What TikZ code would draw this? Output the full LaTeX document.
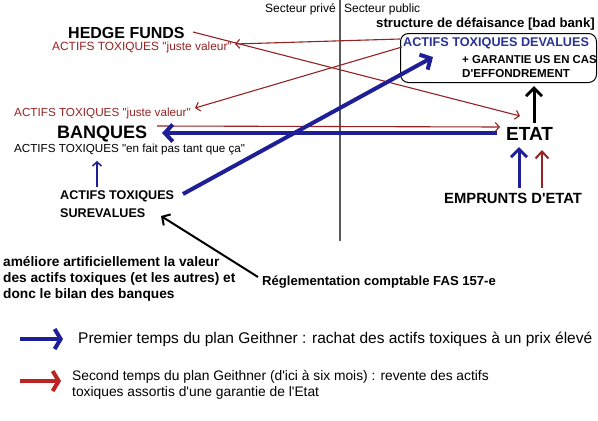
\documentclass[tikz,border=0pt]{standalone}
\usepackage{fontspec}
\setmainfont{Liberation Sans}
\usetikzlibrary{arrows.meta}
\definecolor{navy}{RGB}{30,30,150}
\definecolor{boxblue}{RGB}{40,50,150}
\definecolor{dred}{RGB}{150,35,35}
\definecolor{lred}{RGB}{190,35,35}
\definecolor{vline}{RGB}{90,90,90}
\newcommand{\apos}{\textquotesingle}
\newcommand{\dq}{\textquotedbl}
\begin{document}
\begin{tikzpicture}[x=1pt,y=-1pt,
  lbl/.style={inner sep=0pt, anchor=west},
  fs/.style={font={\fontsize{#1}{#1}\selectfont}},
  fsb/.style={font={\fontsize{#1}{#1}\selectfont\bfseries}},
  thinred/.style={draw=dred, line width=1.1pt, -{Straight Barb[length=4pt,width=9pt]}},
  thickblue/.style={draw=navy, line width=4pt, -{Straight Barb[length=8pt,width=17pt]}},
  upblue/.style={draw=navy, line width=3pt, -{Straight Barb[length=8pt,width=16pt]}},
  upred/.style={draw=dred, line width=2pt, -{Straight Barb[length=7pt,width=13pt]}},
  upblack/.style={draw=black, line width=3pt, -{Straight Barb[length=8pt,width=16pt]}},
]
\useasboundingbox[fill=white] (0,0) rectangle (598,421);

% dividing line
\coordinate (vtop) at (340,0);
\coordinate (vbot) at (340,241);
\draw[vline, line width=1.2pt] (vtop) -- (vbot);
\node[lbl, anchor=east, fs=12] (secpriv) at (336,9) {Secteur privé};
\node[lbl, fs=12] (secpub) at (344,9) {Secteur public};

% left side texts
\node[lbl, fsb=16] (hedge) at (68,33) {HEDGE FUNDS};
\node[lbl, fs=11.9, text=dred] (jv1) at (52,47) {ACTIFS TOXIQUES \dq juste valeur\dq};
\node[lbl, fs=11.7, text=dred] (jv2) at (14,113) {ACTIFS TOXIQUES \dq juste valeur\dq};
\node[lbl, fsb=18] (banques) at (57,134) {BANQUES};
\node[lbl, fs=11.65] (enfait) at (14,150) {ACTIFS TOXIQUES \dq en fait pas tant que ça\dq};
\node[lbl, fsb=12.6] (sur1) at (60,196) {ACTIFS TOXIQUES};
\node[lbl, fsb=12.6] (sur2) at (60,213) {SUREVALUES};
\node[inner sep=0pt, anchor=north west, align=left, font={\fontsize{13.7}{16}\selectfont\bfseries}] (amel) at (3,256)
  {améliore artificiellement la valeur\\des actifs toxiques (et les autres) et\\donc le bilan des banques};
\node[lbl, fsb=13.1] (regl) at (262,282) {Réglementation comptable FAS 157-e};

% right side
\node[lbl, fsb=13.2] (struct) at (376,24) {structure de défaisance [bad bank]};
\node[draw=black, line width=1pt, rounded corners=8pt, minimum width=196pt, minimum height=49pt, anchor=north west] (bb) at (400,33) {};
\node[lbl, fsb=12.65, text=boxblue] (dev) at (403,43) {ACTIFS TOXIQUES DEVALUES};
\node[lbl, fsb=11.4] (gar) at (462,60) {+ GARANTIE US EN CAS};
\node[lbl, fsb=11.6] (eff) at (462,74) {D\apos EFFONDREMENT};
\node[lbl, fsb=19] (etat) at (506,134) {ETAT};
\node[lbl, fsb=14.8] (empr) at (444,198) {EMPRUNTS D\apos ETAT};

% connector end points
\coordinate (r1s) at (400,39);
\coordinate (r1e) at (235,44);
\coordinate (r2s) at (193,32);
\coordinate (r2e) at (520,116);
\coordinate (r3s) at (402,47);
\coordinate (r3e) at (195,108);
\coordinate (r4s) at (157,126);
\coordinate (r4e) at (500,127);
\coordinate (b1s) at (497,133);
\coordinate (b1e) at (162,133);
\coordinate (b2s) at (183,194);
\coordinate (b2e) at (433,57);
\coordinate (b3s) at (97,187);
\coordinate (b3e) at (97,161);
\coordinate (u1s) at (519,188);
\coordinate (u1e) at (519,147);
\coordinate (u2s) at (542,188);
\coordinate (u2e) at (542,150);
\coordinate (u3s) at (534,123);
\coordinate (u3e) at (534,86);
\coordinate (k1s) at (258,277);
\coordinate (k1e) at (161,216);

% red connectors
\draw[thinred] (r1s) -- (r1e);
\draw[thinred] (r2s) -- (r2e);
\draw[thinred] (r3s) -- (r3e);
\draw[thinred] (r4s) -- (r4e);

% blue connectors
\draw[thickblue] (b1s) -- (b1e);
\draw[thickblue] (b2s) -- (b2e);
\draw[draw=navy, line width=1.5pt, -{Straight Barb[length=4pt,width=9pt]}] (b3s) -- (b3e);
\draw[upblue] (u1s) -- (u1e);
\draw[upred] (u2s) -- (u2e);
\draw[upblack] (u3s) -- (u3e);
\draw[draw=black, line width=2pt, -{Straight Barb[length=6pt,width=13pt]}] (k1s) -- (k1e);

% legend
\coordinate (l1s) at (20,339);
\coordinate (l1e) at (63,339);
\coordinate (l2s) at (20,381);
\coordinate (l2e) at (61,381);
\draw[draw=navy, line width=4pt, -{Straight Barb[length=6pt,width=20pt]}] (l1s) -- (l1e);
\draw[draw=lred, line width=4pt, -{Straight Barb[length=6pt,width=20pt]}] (l2s) -- (l2e);
\node[lbl, fs=15.5] (leg1) at (78,339) {Premier temps du plan Geithner : rachat des actifs toxiques à un prix élevé};
\node[inner sep=0pt, anchor=north west, align=left, font={\fontsize{13.8}{16.5}\selectfont}] (leg2) at (72,370)
  {Second temps du plan Geithner (d\apos ici à six mois) : revente des actifs\\toxiques assortis d\apos une garantie de l\apos Etat};
\end{tikzpicture}
\end{document}
